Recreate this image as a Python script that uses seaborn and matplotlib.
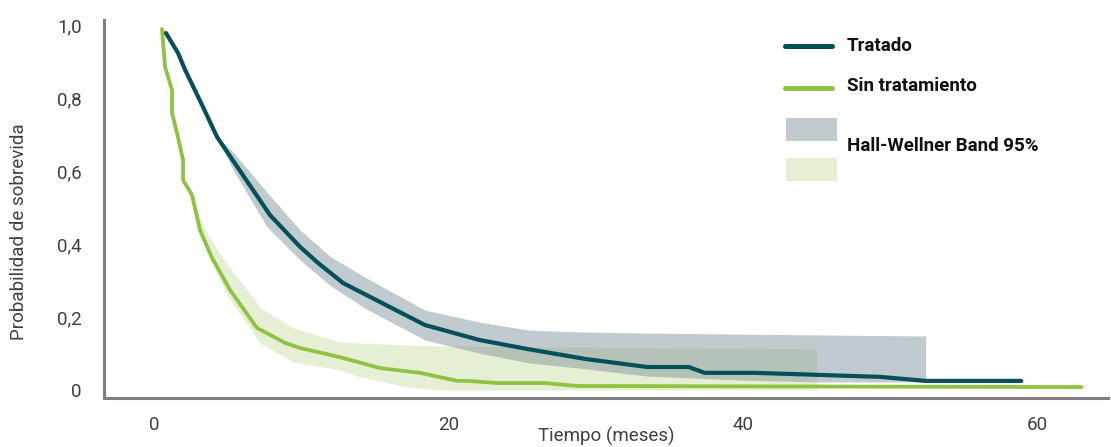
import matplotlib
matplotlib.use("Agg")
import matplotlib.pyplot as plt
import seaborn as sns
import numpy as np
import pandas as pd
from matplotlib.lines import Line2D
from matplotlib.patches import Rectangle
from matplotlib.ticker import FuncFormatter

# ---- data ----
trat_t = [0.81, 1.63, 2.11, 3.33, 4.28, 7.88, 9.92, 11.14, 12.84, 18.4, 22.1, 25.4,
          29.3, 33.5, 36.3, 37.4, 40.8, 49.3, 52.4, 58.9]
trat_s = [0.978, 0.923, 0.877, 0.775, 0.693, 0.479, 0.392, 0.348, 0.293, 0.178, 0.137, 0.112,
          0.085, 0.063, 0.063, 0.047, 0.047, 0.036, 0.025, 0.025]

sin_t = [0.54, 0.75, 1.22, 1.22, 1.56, 1.97, 1.97, 2.58, 3.12, 3.94, 5.16, 6.99, 8.9, 9.92,
         12.63, 15.35, 18.06, 20.6, 21.3, 23.3, 26.6, 28.7, 63.0]
sin_s = [0.989, 0.885, 0.822, 0.759, 0.704, 0.630, 0.575, 0.534, 0.438, 0.362, 0.274, 0.170,
         0.129, 0.115, 0.090, 0.060, 0.047, 0.025, 0.025, 0.019, 0.019, 0.011, 0.008]

trat_band_t = [4.28, 5.37, 7.67, 9.92, 12.0, 14.5, 18.4, 22.1, 25.5, 28.9, 33.5, 40.0, 45.0, 52.4]
trat_band_lo = [0.693, 0.603, 0.447, 0.356, 0.285, 0.220, 0.137, 0.101, 0.074, 0.060, 0.038, 0.027, 0.022, 0.022]
trat_band_hi = [0.693, 0.652, 0.542, 0.438, 0.365, 0.305, 0.219, 0.186, 0.164, 0.159, 0.156, 0.153, 0.151, 0.148]

sin_band_t = [2.3, 3.5, 4.96, 7.2, 9.44, 12.6, 14.0, 17.2, 19.4, 45.0]
sin_band_lo = [0.55, 0.385, 0.26, 0.129, 0.077, 0.055, 0.036, 0.008, 0.0, 0.0]
sin_band_hi = [0.55, 0.435, 0.345, 0.227, 0.170, 0.132, 0.129, 0.123, 0.121, 0.112]

x_ticks = [0, 20, 40, 60]
y_ticks = [0, 0.2, 0.4, 0.6, 0.8, 1.0]

labels = ["Tratado", "Sin tratamiento", "Hall-Wellner Band 95%"]
xlabel = "Tiempo (meses)"
ylabel = "Probabilidad de sobrevida"

# ---- style ----
C_TRAT = "#03505a"
C_SIN = "#8fc23f"
C_GRAY_BAND = "#85979f"
C_GREEN_BAND = "#e5efd3"
C_AXIS = "#808080"
C_TEXT = "#404040"

sns.set_theme(style="white")
plt.rcParams["font.family"] = ["Roboto", "DejaVu Sans"]

W, H = 1111, 447
fig = plt.figure(figsize=(W / 100, H / 100), dpi=100)
left, right, top, bottom = 104, 1108, 20, 398
ax = fig.add_axes([left / W, 1 - bottom / H, (right - left) / W, (bottom - top) / H])

df_t = pd.DataFrame({"t": trat_t, "s": trat_s})
df_s = pd.DataFrame({"t": sin_t, "s": sin_s})

ax.fill_between(sin_band_t, sin_band_lo, sin_band_hi, color=C_GREEN_BAND, lw=0, zorder=1)
ax.fill_between(trat_band_t, trat_band_lo, trat_band_hi, color=C_GRAY_BAND, alpha=0.5, lw=0, zorder=2)
sns.lineplot(data=df_s, x="t", y="s", ax=ax, color=C_SIN, lw=2.7, estimator=None, sort=False, zorder=3)
sns.lineplot(data=df_t, x="t", y="s", ax=ax, color=C_TRAT, lw=3.0, estimator=None, sort=False, zorder=4)

ax.set_xlim(-3.40, 64.79)
ax.set_ylim(-8 / 365, 370 / 365)
ax.set_xticks(x_ticks)
ax.set_yticks(y_ticks)
ax.yaxis.set_major_formatter(FuncFormatter(lambda v, p: "0" if v == 0 else f"{v:.1f}".replace(".", ",")))
ax.xaxis.set_major_formatter(FuncFormatter(lambda v, p: f"{int(v)}"))

for s in ["top", "right"]:
    ax.spines[s].set_visible(False)
for s in ["left", "bottom"]:
    ax.spines[s].set_color(C_AXIS)
    ax.spines[s].set_linewidth(2.2)

ax.tick_params(axis="both", which="major", direction="out", length=10, width=2.0,
               color=C_AXIS, labelcolor=C_TEXT, labelsize=13.5)
ax.tick_params(axis="x", pad=3)
ax.tick_params(axis="y", pad=6)

ax.set_xlabel(xlabel, fontsize=13.5, color=C_TEXT)
ax.set_ylabel(ylabel, fontsize=13.5, color=C_TEXT)
ax.xaxis.set_label_coords(0.5, -0.077)
ax.yaxis.set_label_coords(-0.076, 0.44)

# ---- legend (manual, pixel-placed) ----
def fx(px):
    return px / W

def fy(py):
    return 1 - py / H

fig.add_artist(Line2D([fx(785), fx(832)], [fy(46), fy(46)], color=C_TRAT, lw=3.6,
                      solid_capstyle="round", transform=fig.transFigure))
fig.add_artist(Line2D([fx(785), fx(832)], [fy(88), fy(88)], color=C_SIN, lw=3.6,
                      solid_capstyle="round", transform=fig.transFigure))
fig.add_artist(Rectangle((fx(786), fy(141)), fx(837) - fx(786), fy(118) - fy(141),
                         color=C_GRAY_BAND, alpha=0.5, lw=0, transform=fig.transFigure))
fig.add_artist(Rectangle((fx(786), fy(181)), fx(837) - fx(786), fy(158) - fy(181),
                         color=C_GREEN_BAND, lw=0, transform=fig.transFigure))
txt_kw = dict(fontsize=13.5, fontweight="bold", color="#111111", va="center", ha="left")
fig.text(fx(847), fy(46), labels[0], **txt_kw)
fig.text(fx(847), fy(86), labels[1], **txt_kw)
fig.text(fx(847), fy(146), labels[2], **txt_kw)

fig.savefig("out.png", dpi=100)
